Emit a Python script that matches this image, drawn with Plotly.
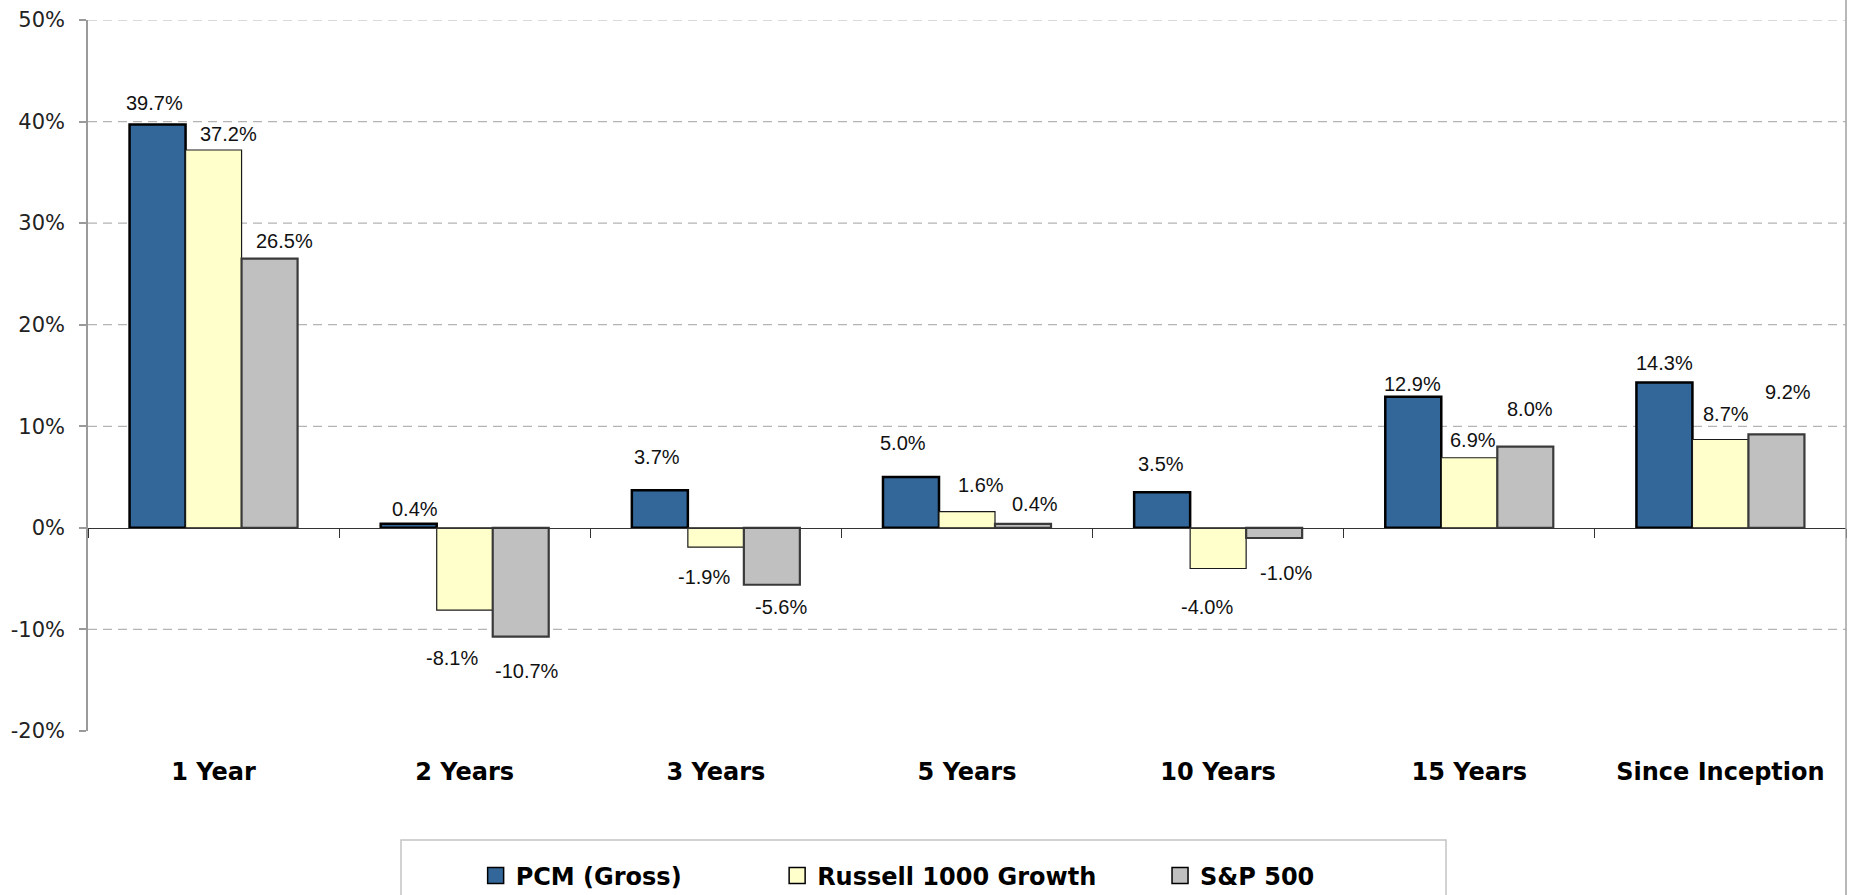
import plotly.graph_objects as go

# ---------------- data ----------------
categories = ["1 Year", "2 Years", "3 Years", "5 Years", "10 Years", "15 Years", "Since Inception"]
pcm_gross = [39.7, 0.4, 3.7, 5.0, 3.5, 12.9, 14.3]
russell_1000_growth = [37.2, -8.1, -1.9, 1.6, -4.0, 6.9, 8.7]
sp_500 = [26.5, -10.7, -5.6, 0.4, -1.0, 8.0, 9.2]
series_names = ["PCM (Gross)", "Russell 1000 Growth", "S&P 500"]
y_tick_values = [-20, -10, 0, 10, 20, 30, 40, 50]
y_tick_labels = ["-20%", "-10%", "0%", "10%", "20%", "30%", "40%", "50%"]

# ---------------- styles ----------------
fills = ["#336699", "#FFFFCC", "#C0C0C0"]
outline_colors = ["#000000", "#1a1a1a", "#3a3a3a"]
outline_widths = [2.5, 1.2, 2.2]
# hand-placed data-label nudges (pixels) as in the original chart
label_dx = [[-3, 6, -3, -8, -1, -1, 0],
            [15, -13, -12, 14, -11, 4, 6],
            [15, 6, 9, 12, 12, 5, 12]]
label_dy = [[22, 15, 33, 34, 28, 13, 20],
            [16, -48, -30, 27, -39, 18, 25],
            [18, -34, -22, 20, -35, 38, 42]]
legend_x = [0.2205, 0.392, 0.6098]

W, H = 1853, 895
ML, MR, MT, MB = 88, 7, 20, 164
BARGAP = 0.331
bar_w = (1 - BARGAP) / 3
PW, PH = W - ML - MR, H - MT - MB

series_values = [pcm_gross, russell_1000_growth, sp_500]

fig = go.Figure()
for i, (name, vals) in enumerate(zip(series_names, series_values)):
    fig.add_trace(go.Bar(
        x=categories, y=vals, name=name, showlegend=False,
        marker=dict(color=fills[i], line=dict(color=outline_colors[i], width=outline_widths[i])),
        hoverinfo="skip",
    ))

# legend entries (one legend per entry so spacing follows the original)
legend_keys = ["legend", "legend2", "legend3"]
for i, name in enumerate(series_names):
    fig.add_trace(go.Scatter(
        x=[categories[0]], y=[None], mode="markers", name=name,
        legend=legend_keys[i], showlegend=True, hoverinfo="skip",
        marker=dict(symbol="square", size=16, color=fills[i],
                    line=dict(color="#000000", width=1.5)),
    ))

# trace for the zero-line axis
fig.add_trace(go.Scatter(x=categories, y=[None] * len(categories), xaxis="x2",
                         mode="markers", showlegend=False, hoverinfo="skip"))

# data labels
annotations = []
for i, vals in enumerate(series_values):
    off = (i - 1) * bar_w
    for j, v in enumerate(vals):
        annotations.append(dict(
            x=j + off, y=v, xref="x", yref="y", text=f"{v:.1f}%",
            showarrow=False, xanchor="center", yanchor="middle",
            xshift=label_dx[i][j], yshift=label_dy[i][j],
            font=dict(family="Liberation Sans, Arial, sans-serif", size=20, color="#111111"),
        ))

# dashed gridlines (none at the bottom edge)
shapes = []
for v in y_tick_values:
    if v in (0, y_tick_values[0]):
        continue
    shapes.append(dict(type="line", xref="paper", yref="y", x0=0, x1=1, y0=v, y1=v,
                       line=dict(color="#b4b4b4", width=1.2, dash="9px,6px"), layer="below"))
# right frame line
shapes.append(dict(type="line", xref="paper", yref="paper", x0=1, x1=1, y0=-0.3, y1=1.05,
                   line=dict(color="#a0a0a0", width=1.5)))
# legend frame
shapes.append(dict(type="rect", xref="paper", yref="paper",
                   x0=(401 - ML) / PW, x1=(1446 - ML) / PW,
                   y0=-0.25, y1=(H - MB - 840) / PH,
                   line=dict(color="#c4c4c4", width=1.5), fillcolor="rgba(0,0,0,0)"))

legend_common = dict(orientation="h", xanchor="left", yanchor="middle",
                     y=(H - MB - 876) / PH, bgcolor="rgba(0,0,0,0)",
                     borderwidth=0, itemwidth=30,
                     font=dict(family="DejaVu Sans, Verdana, sans-serif", size=24,
                               color="#000000", weight="bold"))

fig.update_layout(
    width=W, height=H,
    margin=dict(l=ML, r=MR, t=MT, b=MB, pad=0, autoexpand=False),
    paper_bgcolor="white", plot_bgcolor="white",
    barmode="group", bargap=BARGAP, bargroupgap=0,
    annotations=annotations, shapes=shapes,
    legend=dict(x=legend_x[0], **legend_common),
    legend2=dict(x=legend_x[1], **legend_common),
    legend3=dict(x=legend_x[2], **legend_common),
    xaxis=dict(type="category", categoryorder="array", categoryarray=categories,
               range=[-0.5, len(categories) - 0.5], automargin=False,
               showline=False, showgrid=False, zeroline=False, ticks="",
               ticklabelstandoff=24,
               tickfont=dict(family="DejaVu Sans, Verdana, sans-serif", size=24,
                             color="#000000", weight="bold")),
    xaxis2=dict(type="category", overlaying="x", matches="x", anchor="free",
                position=(0 - y_tick_values[0]) / (y_tick_values[-1] - y_tick_values[0]),
                showline=True, linecolor="#333333", linewidth=1.2,
                ticks="outside", tickson="boundaries", ticklen=9, tickcolor="#333333",
                tickwidth=1.2, showticklabels=False, showgrid=False, zeroline=False),
    yaxis=dict(range=[y_tick_values[0], y_tick_values[-1]], tickmode="array",
               tickvals=y_tick_values, ticktext=y_tick_labels, automargin=False,
               showgrid=False, zeroline=False,
               showline=True, linecolor="#9a9a9a", linewidth=1.5,
               ticks="outside", ticklen=7, tickcolor="#9a9a9a", tickwidth=1.5,
               ticklabelstandoff=10,
               tickfont=dict(family="DejaVu Sans, Verdana, sans-serif", size=21, color="#222222")),
    hovermode=False,
)

fig.write_html("out.html", config={"displayModeBar": False},
               post_script="document.body.style.margin='0';document.body.style.overflow='hidden';")
